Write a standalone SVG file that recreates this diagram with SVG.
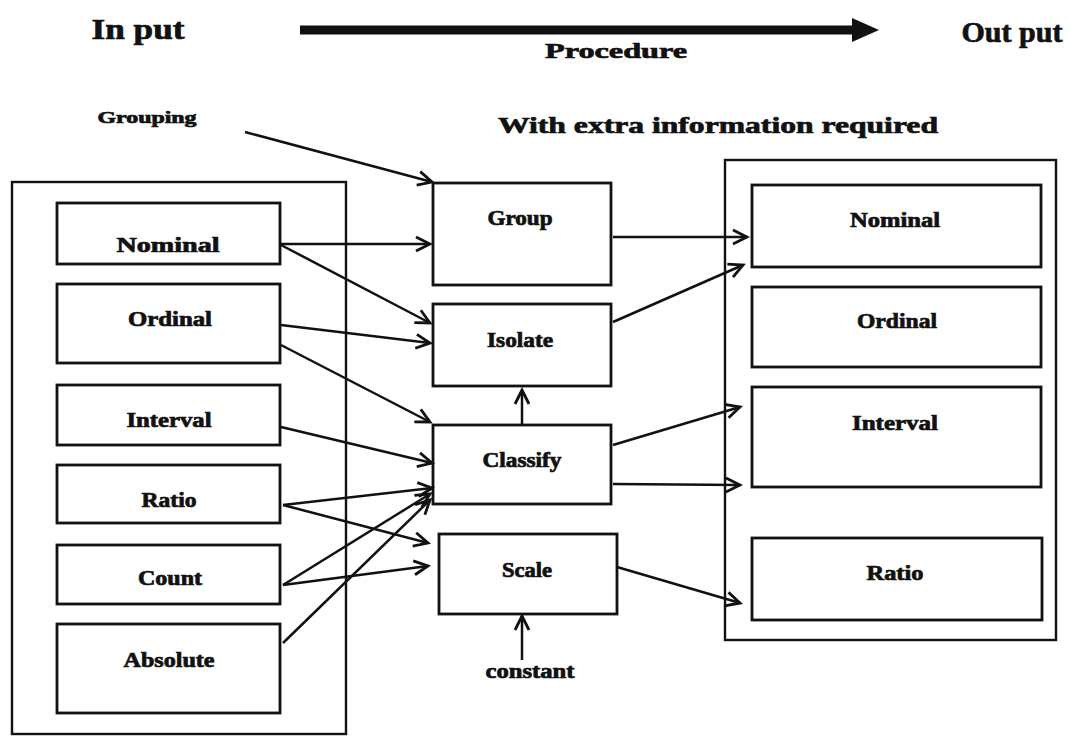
<svg xmlns="http://www.w3.org/2000/svg" width="1069" height="736" viewBox="0 0 1069 736">
  <style>
    .frame { fill: none; stroke: #111; stroke-width: 2.4; }
    .box { fill: none; stroke: #111; stroke-width: 2.8; }
    .lbl { font-family: "Liberation Serif", "Times New Roman", serif; font-weight: bold; fill: #111; stroke: #111; stroke-width: 0.7; text-anchor: middle; }
    .node { font-size: 20px; }
    .head { font-size: 30px; }
    .edge { fill: none; stroke: #111; stroke-width: 2.5; marker-end: url(#vee); }
  </style>
  <defs>
    <marker id="vee" markerUnits="userSpaceOnUse" markerWidth="20" markerHeight="20" viewBox="-16 -10 18 20" refX="0" refY="0" orient="auto">
      <path d="M-14,-7 L0,0 L-14,7" fill="none" stroke="#111" stroke-width="2.8" stroke-linejoin="miter"/>
    </marker>
  </defs>

  <rect width="1069" height="736" fill="#ffffff"/>

  <!-- header: input / procedure / output -->
  <g id="header">
    <text class="lbl head" x="138" y="39" textLength="93" lengthAdjust="spacingAndGlyphs">In put</text>
    <line x1="300" y1="30" x2="856" y2="30" stroke="#111" stroke-width="9"/>
    <polygon points="852,18 879,30 852,42" fill="#111"/>
    <text class="lbl" x="616" y="58" font-size="21" textLength="142" lengthAdjust="spacingAndGlyphs">Procedure</text>
    <text class="lbl head" x="1012" y="42" font-size="28" textLength="101" lengthAdjust="spacingAndGlyphs">Out put</text>
    <text class="lbl" x="147" y="123" font-size="16" textLength="99" lengthAdjust="spacingAndGlyphs">Grouping</text>
    <text class="lbl" x="718" y="133" font-size="23" textLength="440" lengthAdjust="spacingAndGlyphs">With extra information required</text>
  </g>

  <!-- input scales -->
  <g id="input">
    <rect class="frame" x="12" y="182" width="334" height="552"/>
    <g id="in-nominal">
      <rect class="box" x="57" y="203" width="223" height="61"/>
      <text class="lbl node" x="168" y="252" font-size="21" textLength="103" lengthAdjust="spacingAndGlyphs">Nominal</text>
    </g>
    <g id="in-ordinal">
      <rect class="box" x="57" y="284" width="223" height="79"/>
      <text class="lbl node" x="170" y="326" textLength="84" lengthAdjust="spacingAndGlyphs">Ordinal</text>
    </g>
    <g id="in-interval">
      <rect class="box" x="57" y="385" width="223" height="60"/>
      <text class="lbl node" x="169" y="427" textLength="85" lengthAdjust="spacingAndGlyphs">Interval</text>
    </g>
    <g id="in-ratio">
      <rect class="box" x="57" y="465" width="223" height="58"/>
      <text class="lbl node" x="169" y="507" textLength="55" lengthAdjust="spacingAndGlyphs">Ratio</text>
    </g>
    <g id="in-count">
      <rect class="box" x="57" y="545" width="223" height="59"/>
      <text class="lbl node" x="170" y="585" textLength="64" lengthAdjust="spacingAndGlyphs">Count</text>
    </g>
    <g id="in-absolute">
      <rect class="box" x="57" y="624" width="223" height="89"/>
      <text class="lbl node" x="169" y="667" textLength="91" lengthAdjust="spacingAndGlyphs">Absolute</text>
    </g>
  </g>

  <!-- procedures -->
  <g id="proc-group">
    <rect class="box" x="433" y="183" width="178" height="102"/>
    <text class="lbl node" x="520" y="225" font-size="18" textLength="65" lengthAdjust="spacingAndGlyphs">Group</text>
  </g>
  <g id="proc-isolate">
    <rect class="box" x="433" y="304" width="178" height="82"/>
    <text class="lbl node" x="520" y="347" font-size="18" textLength="66" lengthAdjust="spacingAndGlyphs">Isolate</text>
  </g>
  <g id="proc-classify">
    <rect class="box" x="433" y="425" width="178" height="79"/>
    <text class="lbl node" x="522" y="467" font-size="18" textLength="79" lengthAdjust="spacingAndGlyphs">Classify</text>
  </g>
  <g id="proc-scale">
    <rect class="box" x="439" y="534" width="178" height="80"/>
    <text class="lbl node" x="527" y="577" font-size="18" textLength="50" lengthAdjust="spacingAndGlyphs">Scale</text>
  </g>
  <g id="constant">
    <text class="lbl node" x="530" y="678" font-size="18" textLength="89" lengthAdjust="spacingAndGlyphs">constant</text>
  </g>

  <!-- output scales -->
  <g id="output">
    <rect class="frame" x="725" y="160" width="331" height="480"/>
    <g id="out-nominal">
      <rect class="box" x="752" y="185" width="289" height="82"/>
      <text class="lbl node" x="895" y="227" font-size="18" textLength="90" lengthAdjust="spacingAndGlyphs">Nominal</text>
    </g>
    <g id="out-ordinal">
      <rect class="box" x="752" y="287" width="289" height="80"/>
      <text class="lbl node" x="897" y="328" font-size="18" textLength="80" lengthAdjust="spacingAndGlyphs">Ordinal</text>
    </g>
    <g id="out-interval">
      <rect class="box" x="752" y="387" width="289" height="100"/>
      <text class="lbl node" x="895" y="430" font-size="18" textLength="86" lengthAdjust="spacingAndGlyphs">Interval</text>
    </g>
    <g id="out-ratio">
      <rect class="box" x="752" y="538" width="290" height="82"/>
      <text class="lbl node" x="895" y="580" font-size="18" textLength="57" lengthAdjust="spacingAndGlyphs">Ratio</text>
    </g>
  </g>

  <!-- connectors -->
  <g id="connectors">
    <line class="edge" x1="245" y1="132" x2="432" y2="182"/>
    <line class="edge" x1="281" y1="244" x2="430" y2="244"/>
    <line class="edge" x1="281" y1="245" x2="430" y2="323"/>
    <line class="edge" x1="281" y1="325" x2="430" y2="343"/>
    <line class="edge" x1="281" y1="345" x2="430" y2="422"/>
    <line class="edge" x1="281" y1="427" x2="432" y2="463"/>
    <line class="edge" x1="283" y1="505" x2="432" y2="488"/>
    <line class="edge" x1="283" y1="505" x2="428" y2="543"/>
    <line class="edge" x1="283" y1="585" x2="430" y2="494"/>
    <line class="edge" x1="283" y1="585" x2="428" y2="566"/>
    <line class="edge" x1="283" y1="643" x2="430" y2="500"/>
    <line class="edge" x1="522" y1="425" x2="522" y2="390"/>
    <line class="edge" x1="522" y1="660" x2="522" y2="616"/>
    <line class="edge" x1="613" y1="237" x2="747" y2="237"/>
    <line class="edge" x1="613" y1="322" x2="743" y2="265"/>
    <line class="edge" x1="613" y1="445" x2="740" y2="407"/>
    <line class="edge" x1="613" y1="484" x2="740" y2="485"/>
    <line class="edge" x1="617" y1="567" x2="740" y2="603"/>
  </g>
</svg>
